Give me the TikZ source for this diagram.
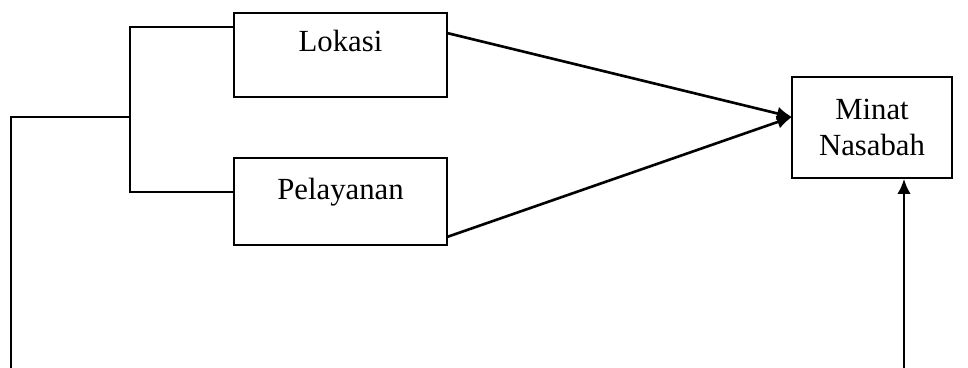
\documentclass[tikz,border=0pt]{standalone}
\usepackage{fontspec}
\setmainfont{Liberation Serif}
\usetikzlibrary{arrows.meta}
\begin{document}
\begin{tikzpicture}[x=0.02cm,y=-0.02cm,line width=0.8pt]
\tikzstyle{box}=[draw, rectangle, line width=1pt, inner sep=0pt, align=center]
\tikzstyle{link}=[line width=1.5pt, -{Latex[length=0.3cm,width=0.27cm]}]
\fontsize{17.5}{21}\selectfont
\useasboundingbox (0,0) rectangle (968,368);
\node[box, minimum width=213*0.02cm, minimum height=84*0.02cm, text depth=0.55cm] (L) at (340.5,55) {Lokasi};
\node[box, minimum width=213*0.02cm, minimum height=87*0.02cm, text depth=0.5cm] (P) at (340.5,201.5) {Pelayanan};
\node[box, minimum width=160*0.02cm, minimum height=101*0.02cm] (M) at (872,127.5) {Minat\\Nasabah};

\coordinate (Lout) at (447,33);
\coordinate (Pout) at (447,237);
\coordinate (Min) at (792,117);
\coordinate (top) at (130,27);
\coordinate (bot) at (130,192);
\coordinate (mid) at (130,117);
\coordinate (left) at (11,117);
\coordinate (leftend) at (11,368);
\coordinate (up) at (904,368);

\draw (L.west |- top) -- (top) -- (bot) -- (P.west |- bot);
\draw (leftend) -- (left) -- (mid);
\draw[link] (Lout) -- (Min);
\draw[link] (Pout) -- (Min);
\draw[link] (up) -- (up |- M.south);
\end{tikzpicture}
\end{document}
